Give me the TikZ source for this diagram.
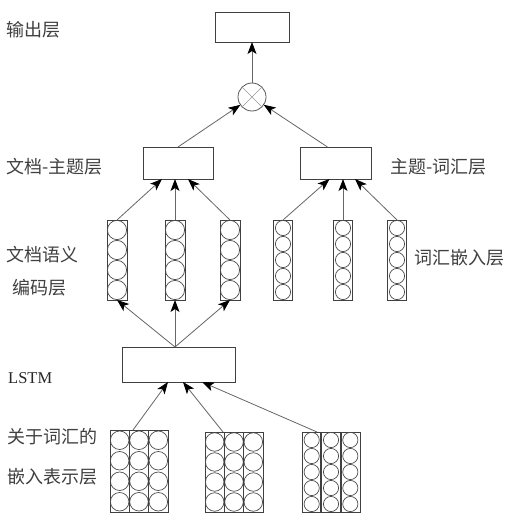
\documentclass[tikz,border=0pt]{standalone}
\usepackage{fontspec}
\setmainfont{Liberation Serif}
\newfontfamily\cjk{Noto Sans CJK SC}
\usetikzlibrary{arrows.meta}
\newcommand\cellgrid[7]{% x0,y0,w,h,ncols,nrows,sepwidth
  \pgfmathsetmacro\cw{#3/#5}\pgfmathsetmacro\ch{#4/#6}
  \pgfmathsetmacro\rr{min(\cw,\ch)/2-0.4}
  \foreach \i in {1,...,#5}{\foreach \j in {1,...,#6}{
    \draw[cellc] ({#1+(\i-0.5)*\cw},{#2+(\j-0.5)*\ch}) circle[radius=\rr];}}
  \ifnum#5>1
  \foreach \i in {2,...,#5}{\draw[framec,line width=#7] ({#1+(\i-1)*\cw},#2) -- ({#1+(\i-1)*\cw},{#2+#4});}
  \fi
}
\begin{document}
\begin{tikzpicture}[x=1pt,y=-1pt,
  framec/.style={draw=black!75,line width=0.9pt},
  cellc/.style={draw=black!70,line width=0.7pt},
  lbox/.style={framec,inner sep=0pt,outer sep=0pt,rectangle},
  arr/.style={draw=black!60,line width=0.8pt,-{Stealth[length=12pt,width=9pt,inset=3pt,black]}},
  lab/.style={inner sep=0pt,anchor=west,text=black!75,font=\cjk\fontsize{18}{20}\selectfont},
  latlab/.style={inner sep=0pt,anchor=west,text=black!85,font=\fontsize{16.5}{18}\selectfont}]
\useasboundingbox (0,0) rectangle (509,516);
\fill[white] (0,0) rectangle (509,516);

% boxes
\node[lbox,minimum width=74pt,minimum height=30pt] (out) at (252,27) {};
\node[draw=black!65,line width=0.8pt,circle,minimum size=28pt,inner sep=0pt,outer sep=0pt] (mul) at (252,97) {};
\draw[black!40,line width=0.6pt] (mul.45) -- (mul.225) (mul.135) -- (mul.315);
\node[lbox,minimum width=70pt,minimum height=32pt] (dt) at (178,163) {};
\node[lbox,minimum width=71pt,minimum height=32pt] (tw) at (335.5,163) {};
\node[lbox,minimum width=113pt,minimum height=35pt] (ls) at (178.5,364.5) {};

% document semantic columns
\foreach \n/\x in {d1/117,d2/175,d3/230}{
  \node[lbox,minimum width=20pt,minimum height=80pt] (\n) at (\x,260) {};
  \cellgrid{\x-10}{220}{20}{80}{1}{4}{0.9pt}
}
% word embedding columns
\foreach \n/\x in {w1/283,w2/343,w3/397}{
  \node[lbox,minimum width=19pt,minimum height=80pt] (\n) at (\x,260) {};
  \cellgrid{\x-9.5}{220}{19}{80}{1}{5}{0.9pt}
}
% bottom matrices
\node[lbox,minimum width=58pt,minimum height=82pt] (m1) at (139,471) {};
\cellgrid{110}{430}{58}{82}{3}{4}{0.9pt}
\node[lbox,minimum width=58pt,minimum height=80pt] (m2) at (234,472) {};
\cellgrid{205}{432}{58}{80}{3}{4}{0.9pt}
\node[lbox,minimum width=58pt,minimum height=80pt] (m3) at (331,472) {};
\cellgrid{302}{432}{58}{80}{3}{5}{1.8pt}

% arrows
\draw[arr] (mul) -- (out);
\draw[arr] (dt.north) -- (mul);
\draw[arr] ([xshift=-8pt]tw.north) -- (mul);
\draw[arr] (d1.north) -- ([xshift=-16pt]dt.south);
\draw[arr] (d2.north) -- ([xshift=-3pt]dt.south);
\draw[arr] (d3.north) -- ([xshift=10pt]dt.south);
\draw[arr] (w1.north) -- ([xshift=-6pt]tw.south);
\draw[arr] (w2.north) -- ([xshift=7.5pt]tw.south);
\draw[arr] (w3.north) -- ([xshift=19.5pt]tw.south);
\draw[arr] ([xshift=-3.5pt]ls.north) -- (d1.south);
\draw[arr] ([xshift=-3.5pt]ls.north) -- (d2.south);
\draw[arr] ([xshift=-3.5pt]ls.north) -- (d3.south);
\draw[arr] ([xshift=-6pt]m1.north) -- ([xshift=-10.5pt]ls.south);
\draw[arr] ([xshift=-11pt]m2.north) -- ([xshift=4.5pt]ls.south);
\draw[arr] ([xshift=-14pt]m3.north) -- ([xshift=23.5pt]ls.south);

% labels
\node[lab] (t1) at (6,30) {输出层};
\node[lab] (t2) at (6,167) {文档-主题层};
\node[lab] (t3) at (390,167) {主题-词汇层};
\node[lab] (t4) at (6,255) {文档语义};
\node[lab] (t5) at (12,288) {编码层};
\node[lab] (t6) at (414,258) {词汇嵌入层};
\node[latlab] (t7) at (8,378) {LSTM};
\node[lab] (t8) at (7,437) {关于词汇的};
\node[lab] (t9) at (7,477) {嵌入表示层};
\end{tikzpicture}
\end{document}
